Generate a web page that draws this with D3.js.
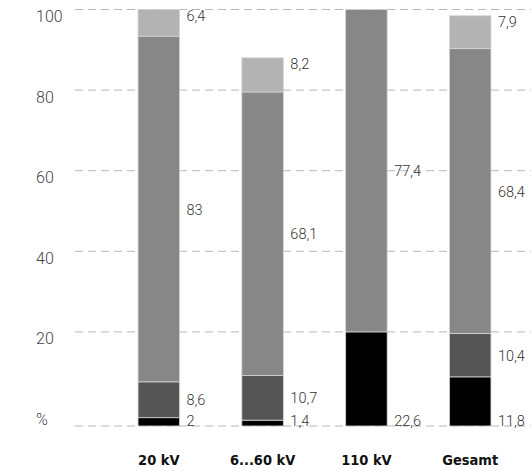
<!DOCTYPE html>
<html>
<head>
<meta charset="utf-8">
<script src="https://cdn.jsdelivr.net/npm/d3@7/dist/d3.min.js"></script>
<style>
  html, body { margin: 0; padding: 0; background: #fff; }
  svg { display: block; }
</style>
</head>
<body>
<svg id="chart" width="531" height="471"></svg>
<script>
// Categories and shares (percent) per voltage level
const categories = ["20 kV", "6...60 kV", "110 kV", "Gesamt"];
const seriesBlack  = [2, 1.4, 22.6, 11.8];
const seriesDark   = [8.6, 10.7, 0, 10.4];
const seriesMedium = [83, 68.1, 77.4, 68.4];
const seriesLight  = [6.4, 8.2, 0, 7.9];
const tickValues = [0, 20, 40, 60, 80, 100];
const tickLabels = ["%", "20", "40", "60", "80", "100"];

const seriesList = [
  { key: "black",  values: seriesBlack,  color: "#000000", place: "base" },
  { key: "dark",   values: seriesDark,   color: "#555555", place: "middle" },
  { key: "medium", values: seriesMedium, color: "#878787", place: "middle" },
  { key: "light",  values: seriesLight,  color: "#b3b3b3", place: "top" }
];

const table = categories.map((c, i) => {
  const row = { category: c };
  seriesList.forEach(s => { row[s.key] = s.values[i]; });
  return row;
});

const svg = d3.select("#chart");
const fmt = d3.formatLocale({ decimal: ",", thousands: ".", grouping: [3], currency: ["", "€"] }).format("~r");

const x = d3.scaleBand().domain(categories).range([106.9, 522.1]).paddingInner(0.6).paddingOuter(0.3);
const y = d3.scaleLinear().domain([0, 100]).range([426, 9.5]);
// tick grid scale
const yt = d3.scaleLinear().domain([0, 100]).range([412.5, 9.5]);

// dashed grid lines
const grid = svg.append("g");
grid.selectAll("line.grid")
  .data(tickValues.filter(v => v > 0))
  .join("line")
  .attr("x1", 75).attr("x2", 531)
  .attr("y1", d => yt(d)).attr("y2", d => yt(d))
  .attr("stroke", "#b8b8b8").attr("stroke-width", 1)
  .attr("stroke-dasharray", "8,5");
grid.append("line")
  .attr("x1", 75).attr("x2", 531)
  .attr("y1", y(0)).attr("y2", y(0))
  .attr("stroke", "#b8b8b8").attr("stroke-width", 1)
  .attr("stroke-dasharray", "8,5");

// tick labels
svg.append("g").selectAll("text")
  .data(tickValues)
  .join("text")
  .attr("x", 36)
  .attr("y", d => yt(d) + 12.5)
  .attr("font-family", "Roboto, 'Noto Sans', sans-serif")
  .attr("font-weight", 300)
  .attr("font-size", 16)
  .attr("fill", "#444")
  .text((d, i) => tickLabels[i]);

// stacked bars
const stack = d3.stack().keys(seriesList.map(s => s.key));
const layers = stack(table);

const barG = svg.append("g");
layers.forEach((layer, li) => {
  const s = seriesList[li];
  barG.selectAll("rect.s" + li)
    .data(layer.filter(d => d[1] - d[0] > 0))
    .join("rect")
    .attr("x", d => x(d.data.category))
    .attr("width", x.bandwidth())
    .attr("y", d => y(d[1]))
    .attr("height", d => y(d[0]) - y(d[1]))
    .attr("fill", s.color)
    .attr("stroke", "#d4d4d4")
    .attr("stroke-width", 0.8);
});

// value labels right of each bar
const labelG = svg.append("g")
  .attr("font-family", "Roboto, 'Noto Sans', sans-serif")
  .attr("font-weight", 300)
  .attr("font-size", 14.5)
  .attr("fill", "#333");
layers.forEach((layer, li) => {
  const s = seriesList[li];
  labelG.selectAll("text.s" + li)
    .data(layer.filter(d => d[1] - d[0] > 0))
    .join("text")
    .attr("x", d => x(d.data.category) + x.bandwidth() + 7)
    .attr("y", d => {
      if (s.place === "base") return y(0);
      if (s.place === "top") return y(d[1]) + 11;
      return (y(d[0]) + y(d[1])) / 2 + 5.5;
    })
    .text(d => fmt(+(d[1] - d[0]).toFixed(1)));
});

// category labels
svg.append("g").selectAll("text")
  .data(categories)
  .join("text")
  .attr("x", d => x(d) + x.bandwidth() / 2)
  .attr("y", 465)
  .attr("text-anchor", "middle")
  .attr("font-family", "'DejaVu Sans Condensed', 'Liberation Sans Narrow', sans-serif")
  .attr("font-weight", "bold")
  .attr("font-size", 14.5)
  .attr("fill", "#111")
  .text(d => d);
</script>
</body>
</html>
